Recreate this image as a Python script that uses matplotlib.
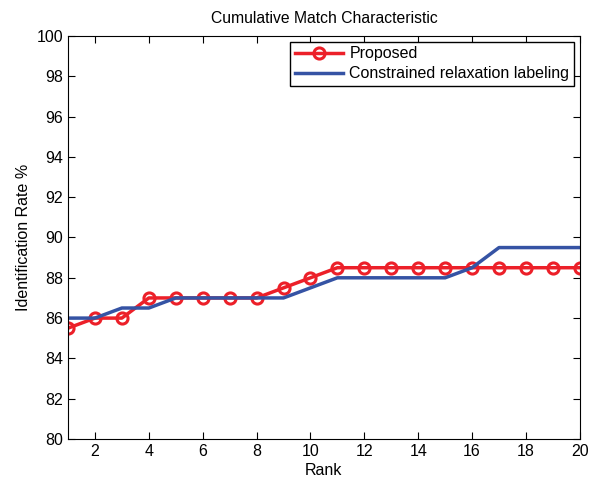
import numpy as np
import matplotlib
matplotlib.use('Agg')
import matplotlib.pyplot as plt

plt.rcParams['font.family'] = ['Liberation Sans', 'DejaVu Sans']

# Data
rank = list(range(1, 21))
proposed = [85.5, 86, 86, 87, 87, 87, 87, 87, 87.5, 88,
            88.5, 88.5, 88.5, 88.5, 88.5, 88.5, 88.5, 88.5, 88.5, 88.5]
constrained = [86, 86, 86.5, 86.5, 87, 87, 87, 87, 87, 87.5,
               88, 88, 88, 88, 88, 88.5, 89.5, 89.5, 89.5, 89.5]

fig = plt.figure(figsize=(5.99, 4.78), dpi=100)
ax = fig.add_axes([0.1135, 0.0816, 0.8545, 0.8431])

ax.plot(rank, proposed, color='#ec2029', lw=2.5, marker='o', ms=8,
        mfc='none', mec='#ec2029', mew=2.2, label='Proposed')
ax.plot(rank, constrained, color='#3553a4', lw=2.5,
        label='Constrained relaxation labeling')

ax.set_xlim(1, 20)
ax.set_ylim(80, 100)
ax.set_xticks(range(2, 21, 2))
ax.set_yticks(range(80, 101, 2))
ax.tick_params(direction='in', top=True, right=True, labelsize=11.5, length=5)

ax.set_title('Cumulative Match Characteristic', fontsize=11.3, pad=9)
ax.set_xlabel('Rank', fontsize=11.5, labelpad=3)
ax.set_ylabel('Identification Rate %', fontsize=11.5)

leg = ax.legend(loc='upper right', fontsize=11.5, fancybox=False,
                framealpha=1, edgecolor='black', borderaxespad=0.35,
                handlelength=3.0, borderpad=0.3, labelspacing=0.3,
                handletextpad=0.4)
leg.get_frame().set_linewidth(1)

fig.savefig('out.png', dpi=100)
